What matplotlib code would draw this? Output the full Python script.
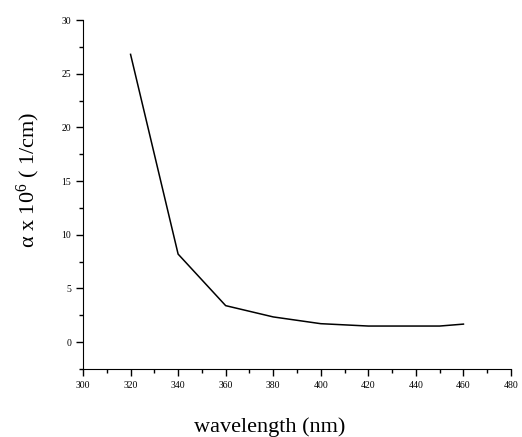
import matplotlib
matplotlib.use("Agg")
import matplotlib.pyplot as plt
from matplotlib.ticker import MultipleLocator

plt.rcParams["mathtext.fontset"] = "custom"
plt.rcParams["mathtext.rm"] = "Liberation Serif"
plt.rcParams["mathtext.it"] = "Liberation Serif:italic"

wavelength = [320, 340, 360, 380, 400, 420, 440, 450, 460]
alpha = [26.8, 8.2, 3.4, 2.35, 1.72, 1.5, 1.5, 1.5, 1.68]

fig = plt.figure(figsize=(5.22, 4.37), dpi=100)
ax = fig.add_axes([83/522, (437-369)/437, (511-83)/522, (369-20)/437])
ax.plot(wavelength, alpha, color="black", lw=1.1)
ax.set_xlim(300, 480)
ax.set_ylim(-2.5, 30)
ax.spines["top"].set_visible(False)
ax.spines["right"].set_visible(False)
ax.xaxis.set_major_locator(MultipleLocator(20))
ax.xaxis.set_minor_locator(MultipleLocator(10))
ax.yaxis.set_major_locator(MultipleLocator(5))
ax.yaxis.set_minor_locator(MultipleLocator(2.5))
ax.tick_params(which="major", direction="out", length=5, width=1, labelsize=7)
ax.tick_params(which="minor", direction="out", length=3, width=1)
for lab in ax.get_xticklabels() + ax.get_yticklabels():
    lab.set_family("Liberation Serif")
ax.set_xlabel("wavelength (nm)", fontsize=16, family="Liberation Serif")
ax.set_ylabel(r"α x 10$^{\mathrm{6}}$ ( 1/cm)", fontsize=16, family="Liberation Serif")
# position labels as in the reference (pixel coords -> axes coords)
ax.xaxis.set_label_coords((270-83)/428, -(427-369)/349)
ax.yaxis.set_label_coords((28-83)/428, (369-180)/349)
ax.xaxis.label.set_va("center")
ax.yaxis.label.set_va("center")
fig.savefig("out.png", dpi=100)
